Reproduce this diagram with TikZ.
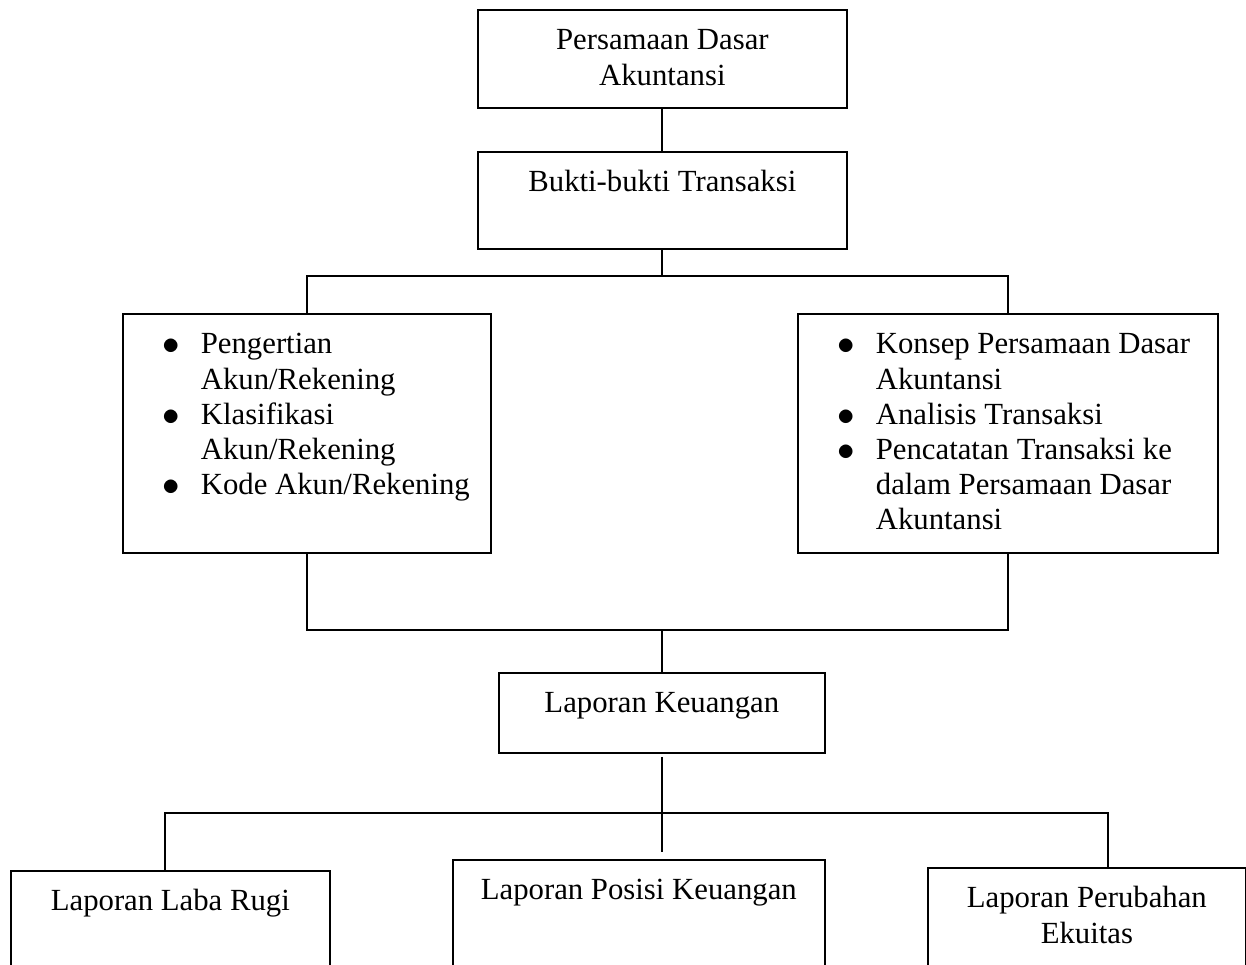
\documentclass[tikz,border=0pt]{standalone}
\usepackage{fontspec}
\setmainfont{Liberation Serif}
\usepackage{tikz}
\newcommand{\butir}[1]{\hangindent=1.36cm\hangafter=1\noindent\hspace*{0.6cm}\makebox[0.76cm][l]{\raisebox{-0.03em}{\scalebox{1.15}{$\bullet$}}}#1\par}

\begin{document}
\begin{tikzpicture}[x=0.02cm, y=-0.02cm,
    box/.style={draw, line width=1pt, anchor=north west, inner xsep=0.2cm, inner ysep=8.8pt, text height=14pt, font=\fontsize{17.5}{20}\selectfont},
    title/.style={box, align=flush center},
    list/.style={box, align=flush left},
    link/.style={line width=1pt}
  ]
  \useasboundingbox (0,0) rectangle (1246,964);
  \clip (0,0) rectangle (1246,964);

  % Top chain
  \node[title, text width=6.98cm, text depth=24.2pt] (dasar) at (477,9) {Persamaan Dasar\\Akuntansi};
  \node[title, text width=6.98cm, text depth=23.6pt] (bukti) at (477,151) {Bukti-bukti Transaksi};

  % Materi
  \node[list, text width=6.96cm, text depth=104.4pt] (akun) at (122,313) {%
    \butir{Pengertian\newline Akun/Rekening}%
    \butir{Klasifikasi\newline Akun/Rekening}%
    \butir{Kode Akun/Rekening}};
  \node[list, text width=8cm, text depth=104.4pt] (konsep) at (797,313) {%
    \butir{Konsep Persamaan Dasar\newline Akuntansi}%
    \butir{Analisis Transaksi}%
    \butir{Pencatatan Transaksi ke\newline dalam Persamaan Dasar\newline Akuntansi}};

  % Laporan
  \node[title, text width=6.12cm, text depth=14pt] (laporan) at (498,672) {Laporan Keuangan};
  \node[title, text width=5.98cm, text depth=53.8pt] (labarugi) at (10,870) {Laporan Laba Rugi};
  \node[title, text width=7.04cm, text depth=53.8pt] (posisi) at (452,859) {Laporan Posisi Keuangan};
  \node[title, text width=5.96cm, text depth=53.8pt] (ekuitas) at (927,867) {Laporan Perubahan\\Ekuitas};

  % Junctions
  \coordinate (j1) at (bukti.south |- 0,276);
  \coordinate (j2) at (laporan.north |- 0,630);
  \coordinate (j3) at (laporan.south |- 0,813);
  \coordinate (lr) at (165,813);
  \coordinate (pr) at (1108,813);

  \draw[link] (dasar) -- (bukti);
  \draw[link] (bukti.south) -- (j1);
  \draw[link] (akun.north) |- (j1) -| (konsep.north);
  \draw[link] (akun.south) |- (j2) -| (konsep.south);
  \draw[link] (j2) -- (laporan.north);
  \draw[link, shorten <=0.06cm, shorten >=0.14cm] (laporan.south) -- (j3 |- posisi.north);
  \draw[link] (lr |- labarugi.north) -- (lr) -- (pr) -- (pr |- ekuitas.north);
\end{tikzpicture}
\end{document}
